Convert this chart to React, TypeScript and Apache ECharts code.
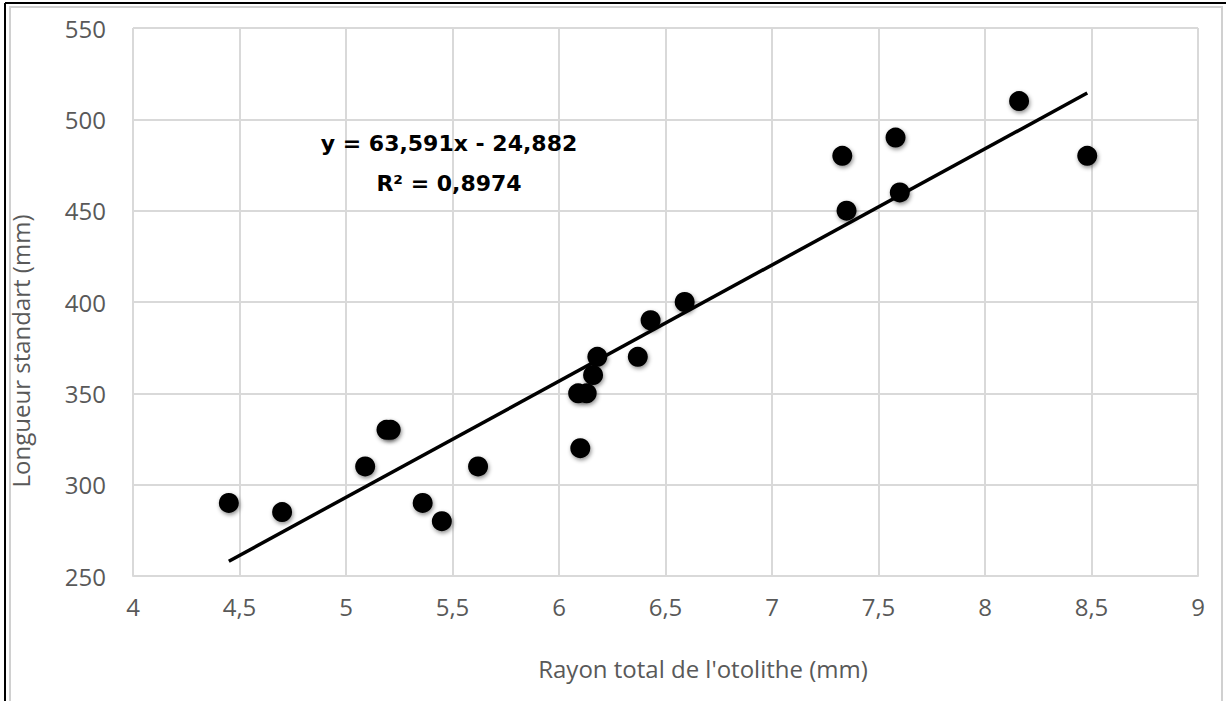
import React, { useEffect, useRef } from "react";
import * as echarts from "echarts";

const xValues = [4.45, 4.7, 5.09, 5.19, 5.21, 5.36, 5.45, 5.62, 6.09, 6.13, 6.1, 6.16, 6.18, 6.37, 6.43, 6.59, 7.33, 7.35, 7.58, 7.6, 8.16, 8.48];
const yValues = [290, 285, 310, 330, 330, 290, 280, 310, 350, 350, 320, 360, 370, 370, 390, 400, 480, 450, 490, 460, 510, 480];
const slope = 63.591;
const intercept = -24.882;
const equationText = "y = 63,591x - 24,882";
const r2Text = "R² = 0,8974";
const xTitle = "Rayon total de l'otolithe (mm)";
const yTitle = "Longueur standart (mm)";

export default function App() {
  const ref = useRef<HTMLDivElement>(null);
  useEffect(() => {
    document.body.style.margin = "0";
    const chart = echarts.init(ref.current!, null, { renderer: "svg" });
    const points = xValues.map((x, i) => [x, yValues[i]]);
    const xMin = Math.min(...xValues);
    const xMax = Math.max(...xValues);
    const trend = [
      [xMin, slope * xMin + intercept],
      [xMax, slope * xMax + intercept],
    ];
    const grey = "#d9d9d9";
    const labelColor = "#595959";
    chart.setOption({
      animation: false,
      backgroundColor: "#ffffff",
      grid: { left: 133, top: 28, right: 28, bottom: 125, containLabel: false },
      xAxis: {
        type: "value",
        min: 4,
        max: 9,
        interval: 0.5,
        axisLine: { show: true, lineStyle: { color: grey, width: 2 } },
        axisTick: { show: false },
        splitLine: { show: true, lineStyle: { color: grey, width: 2 } },
        axisLabel: {
          color: labelColor,
          fontFamily: "Open Sans",
          fontSize: 24,
          margin: 18,
          formatter: (v: number) => String(v).replace(".", ","),
        },
      },
      yAxis: {
        type: "value",
        min: 250,
        max: 550,
        interval: 50,
        axisLine: { show: false },
        axisTick: { show: false },
        splitLine: { show: true, lineStyle: { color: grey, width: 2 } },
        axisLabel: {
          color: labelColor,
          fontFamily: "Open Sans",
          fontSize: 24,
          margin: 27,
        },
      },
      series: [
        {
          type: "scatter",
          data: points,
          symbol: "circle",
          symbolSize: 20,
          itemStyle: {
            color: "#000000",
            opacity: 1,
            shadowBlur: 4,
            shadowColor: "rgba(0,0,0,0.45)",
            shadowOffsetX: 1,
            shadowOffsetY: 2,
          },
          z: 2,
        },
        {
          type: "line",
          data: trend,
          symbol: "none",
          lineStyle: { color: "#000000", width: 3.5 },
          z: 3,
        },
      ],
      graphic: [
        {
          type: "rect",
          shape: { x: 10, y: 7, width: 1212, height: 720 },
          style: { fill: "none", stroke: "#d0d0d0", lineWidth: 2 },
          z: 1,
        },
        {
          type: "line",
          shape: { x1: 5, y1: 3, x2: 1226, y2: 3 },
          style: { stroke: "#000000", lineWidth: 2 },
          z: 2,
        },
        {
          type: "line",
          shape: { x1: 5, y1: 3, x2: 5, y2: 701 },
          style: { stroke: "#000000", lineWidth: 2 },
          z: 2,
        },
        {
          type: "text",
          x: 449,
          y: 143,
          style: {
            text: equationText,
            font: "bold 22px 'DejaVu Sans'",
            fill: "#000000",
            align: "center",
            verticalAlign: "middle",
          },
          z: 10,
        },
        {
          type: "text",
          x: 449,
          y: 183,
          style: {
            text: r2Text,
            font: "bold 22px 'DejaVu Sans'",
            fill: "#000000",
            align: "center",
            verticalAlign: "middle",
          },
          z: 10,
        },
        {
          type: "text",
          x: 703,
          y: 668,
          style: {
            text: xTitle,
            font: "24px 'Open Sans'",
            fill: labelColor,
            align: "center",
            verticalAlign: "middle",
          },
        },
        {
          type: "text",
          x: 20,
          y: 351,
          rotation: Math.PI / 2,
          style: {
            text: yTitle,
            font: "24px 'Open Sans'",
            fill: labelColor,
            align: "center",
            verticalAlign: "middle",
          },
        },
      ],
    });
    return () => chart.dispose();
  }, []);
  return (
    <div
      ref={ref}
      style={{ position: "fixed", left: 0, top: 0, width: 1226, height: 701 }}
    />
  );
}
